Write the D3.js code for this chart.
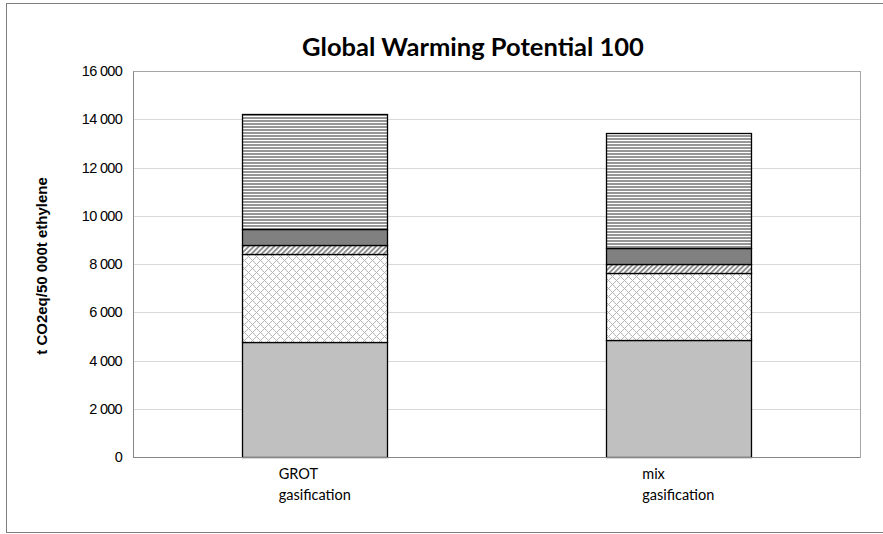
<!DOCTYPE html>
<html>
<head>
<meta charset="utf-8">
<script src="https://cdn.jsdelivr.net/npm/d3@7"></script>
<style>
  html, body { margin: 0; padding: 0; background: #fff; }
  svg { display: block; }
</style>
</head>
<body>
<svg id="chart" width="883" height="534"></svg>
<script>
// ---- data ----
const categories = [["GROT", "gasification"], ["mix", "gasification"]];
const seriesNames = ["Segment 1", "Segment 2", "Segment 3", "Segment 4", "Segment 5"];
const seg1 = [4760, 4860];   // light gray solid
const seg2 = [3650, 2770];   // dotted diamond
const seg3 = [360, 370];     // diagonal hatch
const seg4 = [690, 680];     // dark gray solid
const seg5 = [4760, 4770];   // horizontal stripes
const yTicks = [0, 2000, 4000, 6000, 8000, 10000, 12000, 14000, 16000];
const title = "Global Warming Potential 100";
const yTitle = "t CO2eq/50 000t ethylene";

const svg = d3.select("#chart");
const plot = { left: 133, right: 860, top: 71, bottom: 457 };

// outer frame
svg.append("rect").attr("x", 6.5).attr("y", 3.5).attr("width", 890).attr("height", 529)
  .attr("fill", "#fff").attr("stroke", "#7f7f7f").attr("stroke-width", 1);

// patterns
const defs = svg.append("defs");
const pd = defs.append("pattern").attr("id", "pDiamond").attr("patternUnits", "userSpaceOnUse")
  .attr("width", 8).attr("height", 8);
pd.append("rect").attr("width", 8).attr("height", 8).attr("fill", "#fff");
const dpts = [];
for (let i = 0; i < 8; i++) { dpts.push([i, i]); if ((8 - i) % 8 !== i) dpts.push([(8 - i) % 8, i]); }
pd.selectAll("rect.d").data(dpts).enter().append("rect").attr("class", "d")
  .attr("x", d => d[0]).attr("y", d => d[1]).attr("width", 1).attr("height", 1).attr("fill", "#b4b4b4");
const ph = defs.append("pattern").attr("id", "pHatch").attr("patternUnits", "userSpaceOnUse")
  .attr("width", 3.6).attr("height", 10).attr("patternTransform", "rotate(45)");
ph.append("rect").attr("width", 3.6).attr("height", 10).attr("fill", "#fff");
ph.append("rect").attr("width", 1.9).attr("height", 10).attr("fill", "#8c8c8c");
const ps = defs.append("pattern").attr("id", "pStripe").attr("patternUnits", "userSpaceOnUse")
  .attr("width", 8).attr("height", 3);
ps.append("rect").attr("width", 8).attr("height", 3).attr("fill", "#fff");
ps.append("rect").attr("width", 8).attr("height", 2).attr("fill", "#969696");

const fills = ["#c0c0c0", "url(#pDiamond)", "url(#pHatch)", "#808080", "url(#pStripe)"];

// scales
const x = d3.scaleBand().domain(categories.map(c => c.join(" ")))
  .range([plot.left, plot.right]).paddingInner(0.6).paddingOuter(0.3);
const y = d3.scaleLinear().domain([0, 16000]).range([plot.bottom, plot.top]);

// gridlines
svg.append("g").selectAll("line").data(yTicks.filter(t => t > 0)).enter().append("line")
  .attr("x1", plot.left).attr("x2", plot.right)
  .attr("y1", d => Math.round(y(d)) + 0.5).attr("y2", d => Math.round(y(d)) + 0.5)
  .attr("stroke", "#d9d9d9").attr("stroke-width", 1);

// plot border
svg.append("rect").attr("x", plot.left + 0.5).attr("y", plot.top + 0.5)
  .attr("width", plot.right - plot.left).attr("height", plot.bottom - plot.top)
  .attr("fill", "none").attr("stroke", "#a6a6a6");

// y axis
const fmt = v => d3.format(",")(v).replace(/,/g, " ");
const yAxis = d3.axisLeft(y).tickValues(yTicks).tickSize(0).tickPadding(11).tickFormat(fmt);
const ga = svg.append("g").attr("transform", `translate(${plot.left},0)`).call(yAxis);
ga.select(".domain").attr("stroke", "#868686");
ga.selectAll("text").attr("font-family", "Liberation Sans, Arial, sans-serif")
  .attr("font-size", 14.5).attr("fill", "#000").attr("letter-spacing", "-0.7px");

// stacked data
const rows = categories.map((c, i) => ({ key: c.join(" "), s0: seg1[i], s1: seg2[i], s2: seg3[i], s3: seg4[i], s4: seg5[i] }));
const stack = d3.stack().keys(["s0", "s1", "s2", "s3", "s4"])(rows);

const layers = svg.append("g").selectAll("g").data(stack).enter().append("g")
  .attr("fill", (d, i) => fills[i]);
layers.selectAll("rect").data(d => d).enter().append("rect")
  .attr("x", d => Math.round(x(d.data.key)) + 0.5)
  .attr("width", Math.round(x.bandwidth()))
  .attr("y", d => Math.round(y(d[1])) + 0.5)
  .attr("height", d => Math.round(y(d[0])) - Math.round(y(d[1])))
  .attr("stroke", "#000").attr("stroke-width", 1.3);

// x axis line
svg.append("line").attr("x1", plot.left).attr("x2", plot.right)
  .attr("y1", plot.bottom + 0.5).attr("y2", plot.bottom + 0.5).attr("stroke", "#868686");

// x labels (block centred, lines left aligned)
const xl = svg.append("g").selectAll("text").data(categories).enter().append("text")
  .attr("font-family", "Lato, Carlito, Calibri, sans-serif").attr("font-size", 14.5).attr("fill", "#000")
  .attr("y", 479);
xl.each(function (c) {
  const t = d3.select(this);
  c.forEach((line, j) => {
    t.append("tspan").attr("x", 0).attr("dy", j === 0 ? 0 : 21).text(line);
  });
});
xl.each(function (c) {
  const t = d3.select(this);
  const bb = this.getBBox();
  const cx = x(c.join(" ")) + x.bandwidth() / 2;
  t.selectAll("tspan").attr("x", cx - bb.width / 2);
});

// title
svg.append("text").attr("x", 473).attr("y", 56).attr("text-anchor", "middle")
  .attr("font-family", "Lato, Carlito, Calibri, sans-serif").attr("font-weight", "bold")
  .attr("font-size", 25.5).attr("fill", "#000").text(title);

// y title
svg.append("text").attr("transform", `translate(47,266) rotate(-90)`).attr("text-anchor", "middle")
  .attr("font-family", "Liberation Sans, Arial, sans-serif").attr("font-weight", "bold")
  .attr("font-size", 15).attr("fill", "#000").text(yTitle);
</script>
</body>
</html>
